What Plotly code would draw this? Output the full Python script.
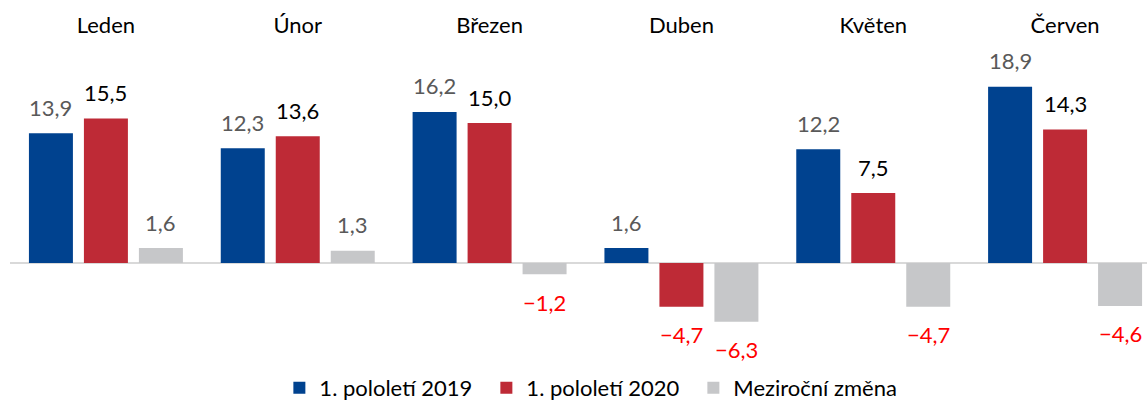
import plotly.graph_objects as go

# data
months = ["Leden", "Únor", "Březen", "Duben", "Květen", "Červen"]
h1_2019 = [13.9, 12.3, 16.2, 1.6, 12.2, 18.9]
h1_2020 = [15.5, 13.6, 15.0, -4.7, 7.5, 14.3]
yoy_change = [1.6, 1.3, -1.2, -6.3, -4.7, -4.6]
series_names = ["1. pololetí 2019", "1. pololetí 2020", "Meziroční změna"]

colors = ["#00428F", "#BE2A36", "#C6C7C9"]
label_colors = ["#595959", "#000000", "#595959"]
FONT = "Lato, 'Open Sans', sans-serif"
FS = 22


def fmt(v):
    return f"{v:.1f}".replace(".", ",").replace("-", "\u2212")


fig = go.Figure()
all_series = [h1_2019, h1_2020, yoy_change]
for name, vals, col in zip(series_names, all_series, colors):
    fig.add_trace(go.Bar(x=months, y=vals, name=name, marker_color=col,
                         marker_line_width=0, hoverinfo="skip"))

# value labels (Excel-style, with a gap from the bar end)
for k, vals in enumerate(all_series):
    for m, v in zip(months, vals):
        if v < 0:
            col = "#FF0000"
        else:
            col = label_colors[k]
        fig.add_annotation(x=m, y=v, text=fmt(v), showarrow=False,
                           xshift=(k - 1) * 55, yshift=26 if v >= 0 else -28,
                           yanchor="middle",
                           font=dict(family=FONT, size=FS, color=col))

fig.update_layout(
    width=1147, height=401,
    margin=dict(l=10, r=0, t=45, b=55, autoexpand=False),
    paper_bgcolor="white", plot_bgcolor="white",
    barmode="group", bargap=0.14, bargroupgap=0.2,
    font=dict(family=FONT, size=FS, color="#000000"),
    showlegend=True,
    legend=dict(orientation="h", x=0.510, xanchor="center", y=-0.07, yanchor="top",
                font=dict(family=FONT, size=FS, color="#000000"),
                itemwidth=30, entrywidth=162, entrywidthmode="pixels"),
)
fig.update_xaxes(side="top", range=[-0.5, 5.427], showgrid=False, showline=False,
                 automargin=False, ticks="", ticklabelstandoff=7,
                 tickfont=dict(family=FONT, size=FS, color="#000000"))
fig.update_yaxes(range=[-8.9, 23.37], showgrid=False, showline=False,
                 automargin=False, showticklabels=False, zeroline=True,
                 zerolinecolor="#D9D9D9", zerolinewidth=2)

# drop the default page margin so the figure fills the window exactly
fig.write_html("out.html", config={"displayModeBar": False},
               post_script="document.body.style.margin='0';"
                           "document.body.style.overflow='hidden';")
